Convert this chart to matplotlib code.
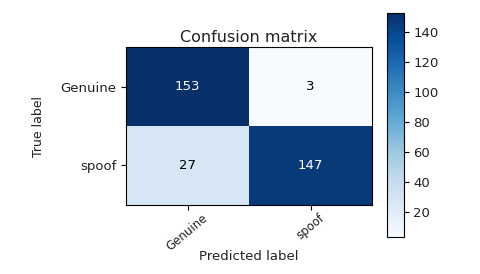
import matplotlib
matplotlib.use('Agg')
import matplotlib.pyplot as plt
import numpy as np

classes = ['Genuine', 'spoof']
cm = np.array([[153, 3],
               [27, 147]])

fig = plt.figure(figsize=(4.8, 2.74), dpi=100)
ax = fig.add_axes([0.2625, 0.252, 0.5125, 0.576])
cax = fig.add_axes([0.806, 0.135, 0.035, 0.818])

im = ax.imshow(cm, interpolation='nearest', cmap=plt.cm.Blues, aspect='auto')
ax.set_title('Confusion matrix', fontsize=11.5, pad=4, color='#222222')
cb = fig.colorbar(im, cax=cax)
cb.set_ticks([20, 40, 60, 80, 100, 120, 140])
cb.ax.tick_params(labelsize=9.5, labelcolor='#222222')

ticks = np.arange(len(classes))
ax.set_xticks(ticks)
ax.set_xticklabels(classes, rotation=40, fontsize=8.5, color='#222222')
ax.tick_params(axis='x', pad=1)
ax.set_yticks(ticks)
ax.set_yticklabels(classes, fontsize=9.5, color='#222222')

thresh = cm.max() / 2.
for i in range(cm.shape[0]):
    for j in range(cm.shape[1]):
        ax.text(j, i, format(cm[i, j], 'd'), ha='center', va='center', fontsize=9.5,
                color='white' if cm[i, j] > thresh else 'black')

ax.set_ylabel('True label', fontsize=9, color='#222222',
              family=['Liberation Sans Narrow', 'DejaVu Sans'])
ax.yaxis.set_label_coords(-0.33, 0.5)
ax.set_xlabel('Predicted label', fontsize=9.5, color='#222222')
ax.xaxis.set_label_coords(0.5, -0.285)

fig.savefig('out.png', dpi=100)
